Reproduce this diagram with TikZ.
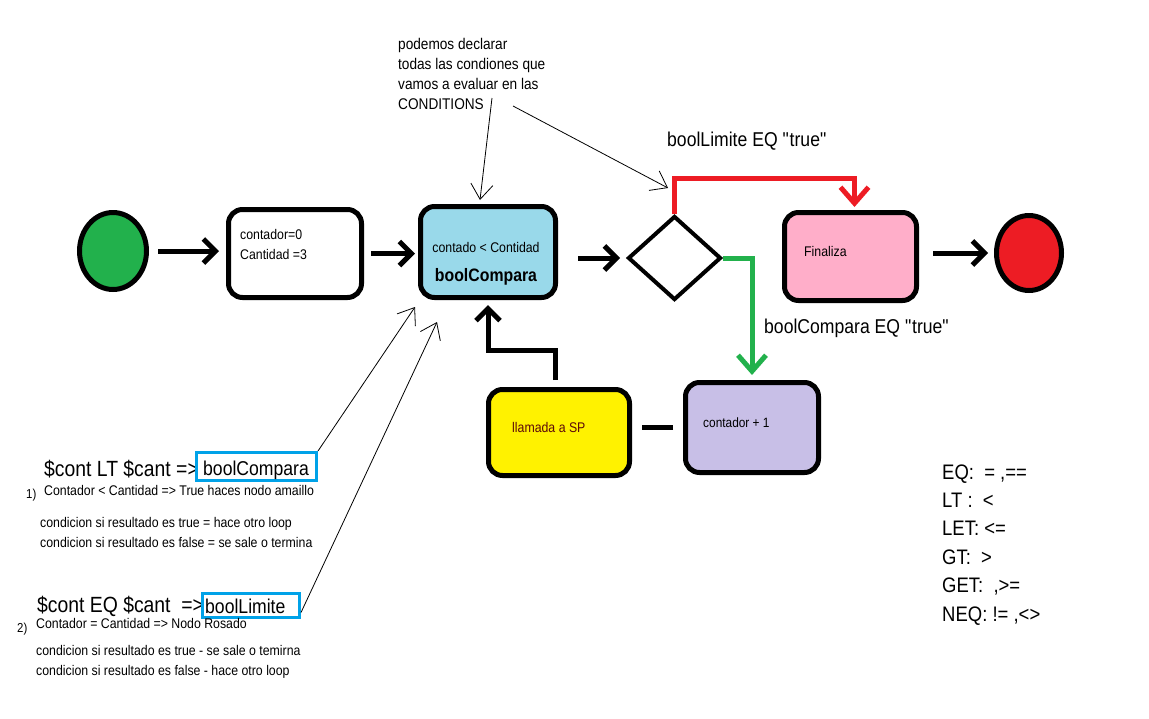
\documentclass[tikz,border=0pt]{standalone}
\usepackage{fontspec}
\setmainfont[FakeStretch=0.88]{Liberation Sans}
\usepackage{tikz}
\usetikzlibrary{arrows.meta, shapes.geometric, positioning}

\definecolor{startgreen}{HTML}{22B14C}
\definecolor{stopred}{HTML}{ED1C24}
\definecolor{condblue}{HTML}{99D9EA}
\definecolor{finpink}{HTML}{FFAEC9}
\definecolor{sumpurple}{HTML}{C8BFE7}
\definecolor{callyellow}{HTML}{FFF200}
\definecolor{boxcyan}{HTML}{00A2E8}
\definecolor{sptext}{HTML}{5C0A0A}
\newcommand{\pxsize}[1]{\fontsize{#1}{#1}\selectfont}

\begin{document}
\begin{tikzpicture}[x=1pt, y=-1pt,
		box/.style={draw, line width=5pt, rounded corners=14pt, inner sep=0pt},
		arr/.style={line width=5pt, -{Straight Barb[length=12pt, width=24pt]}},
		bigarr/.style={line width=5pt, -{Straight Barb[length=16pt, width=28pt]}},
		note/.style={line width=0.8pt, -{Straight Barb[length=15pt, width=22pt]}},
		txt/.style={anchor=base west, inner sep=0pt}]
		\useasboundingbox (0,0) rectangle (1149,718);
		
		% Flow
		\node[ellipse, draw, line width=5pt, fill=startgreen, minimum width=67pt, minimum height=77pt, inner sep=0pt] (start) at (113,251) {};
		\node[box, minimum width=133pt, minimum height=88pt] (init) at (295,253.5) {};
		\node[box, fill=condblue, minimum width=135pt, minimum height=91pt] (cond) at (488,252) {};
		\node[diamond, draw, line width=4pt, minimum width=93pt, minimum height=84pt, inner sep=0pt] (dec) at (674.5,258) {};
		\node[box, fill=finpink, minimum width=132pt, minimum height=88pt] (fin) at (850.5,256.5) {};
		\node[ellipse, draw, line width=5pt, fill=stopred, minimum width=65pt, minimum height=75pt, inner sep=0pt] (stop) at (1029,253) {};
		\node[box, fill=sumpurple, minimum width=133pt, minimum height=90pt] (sum) at (752,427.5) {};
		\node[box, fill=callyellow, minimum width=141pt, minimum height=86pt] (call) at (559,432.5) {};
		
		\draw[arr, shorten <=9pt, shorten >=7pt] (start.east) -- (start.east -| init.west);
		\draw[arr, shorten <=7pt, shorten >=3pt] (init.east) -- (init.east -| cond.west);
		\draw[arr, shorten <=20pt, shorten >=6pt] (cond.east |- dec.west) -- (dec.west);
		\draw[arr, shorten <=14pt, shorten >=6pt] (fin.east |- stop.west) -- (stop.west);
		\draw[bigarr, stopred, shorten >=3pt] (dec.north) -- ++(0,-36) -| ([xshift=4pt]fin.north);
		\draw[bigarr, startgreen, shorten >=5pt] (dec.east) -| (sum.north);
		\draw[line width=5pt, shorten <=10pt, shorten >=10pt] (sum.west) -- (sum.west -| call.east);
		\draw[arr, shorten <=7pt, shorten >=5pt] ([xshift=-4pt]call.north) -- ++(0,-37) -| (cond.south);
		
		% Box texts
		\node[txt, font=\pxsize{14}] (initA) at (240,239) {contador=0};
		\node[txt, font=\pxsize{14}] (initB) at (240,259) {Cantidad =3};
		\node[anchor=base, inner sep=0pt, font=\pxsize{14}] (condA) at (486,252) {contado < Contidad};
		\node[anchor=base, inner sep=0pt, font=\bfseries\pxsize{18}] (condB) at (486,281) {boolCompara};
		\node[txt, font=\pxsize{14}] (finA) at (804,256) {Finaliza};
		\node[txt, font=\pxsize{13.5}] (sumA) at (703,427) {contador + 1};
		\node[txt, font=\pxsize{14}, text=sptext] (callA) at (512,432) {llamada a SP};
		\node[txt, font=\pxsize{20}] (limA) at (667,146) {boolLimite EQ \textquotedbl true\textquotedbl};
		\node[txt, font=\pxsize{20}] (cmpA) at (764,333) {boolCompara EQ \textquotedbl true\textquotedbl};
		
		% Note on top
		\node[anchor=north west, inner sep=0pt, align=left, font=\fontsize{15.5}{20}\selectfont] (nota) at (398,38) {podemos declarar\\todas las condiones que\\vamos a evaluar en las\\CONDITIONS};
		\coordinate (n1) at (492,98);
		\coordinate (n2) at (513,106);
		\coordinate (d1) at (668,188);
		\draw[note] (n1) -- ([xshift=-8pt, yshift=4pt]cond.north);
		\draw[note] (n2) -- (d1);
		
		% Conditions
		\node[txt, font=\pxsize{22}] (ltA) at (44,476) {\$cont LT \$cant =>};
		\node[draw=boxcyan, line width=3pt, minimum width=120pt, minimum height=28pt, inner sep=0pt] (lt) at (256.5,466.5) {};
		\node[txt, font=\pxsize{20}] (ltB) at (203,475) {boolCompara};
		\node[txt, font=\pxsize{13}] (ltN) at (26,498) {1)};
		\node[txt, font=\pxsize{14}] (ltC) at (44,495) {Contador < Cantidad => True haces nodo amaillo};
		\node[txt, font=\pxsize{14}] (ltD) at (40,527) {condicion si resultado es true = hace otro loop};
		\node[txt, font=\pxsize{14}] (ltE) at (40,547) {condicion si resultado es false = se sale o termina};
		
		\node[txt, font=\pxsize{22}] (eqA) at (37,612) {\$cont EQ \$cant \ =>};
		\node[draw=boxcyan, line width=3pt, minimum width=97pt, minimum height=24pt, inner sep=0pt] (eq) at (251,605.5) {};
		\node[txt, font=\pxsize{20}] (eqB) at (205,613) {boolLimite};
		\node[txt, font=\pxsize{13}] (eqN) at (17,632) {2)};
		\node[txt, font=\pxsize{14}] (eqC) at (36,628) {Contador = Cantidad => Nodo Rosado};
		\node[txt, font=\pxsize{14}] (eqD) at (36,655) {condicion si resultado es true - se sale o temirna};
		\node[txt, font=\pxsize{14}] (eqE) at (36,675) {condicion si resultado es false - hace otro loop};
		
		\coordinate (t1) at (415,307);
		\coordinate (t2) at (437,322);
		\draw[note] (lt.north east) -- (t1);
		\draw[note] ([yshift=-7pt]eq.east) -- (t2);
		
		% Operators
		\foreach \op [count=\i] in {{EQ:\ \ = ,==}, {LT :\ \ <}, {LET: <=}, {GT:\ \ >}, {GET:\ \ ,>=}, {NEQ: != ,<>}}
			\node[txt, font=\pxsize{21}] (op\i) at (942,450.6+28.4*\i) {\op};
\end{tikzpicture}
\end{document}
